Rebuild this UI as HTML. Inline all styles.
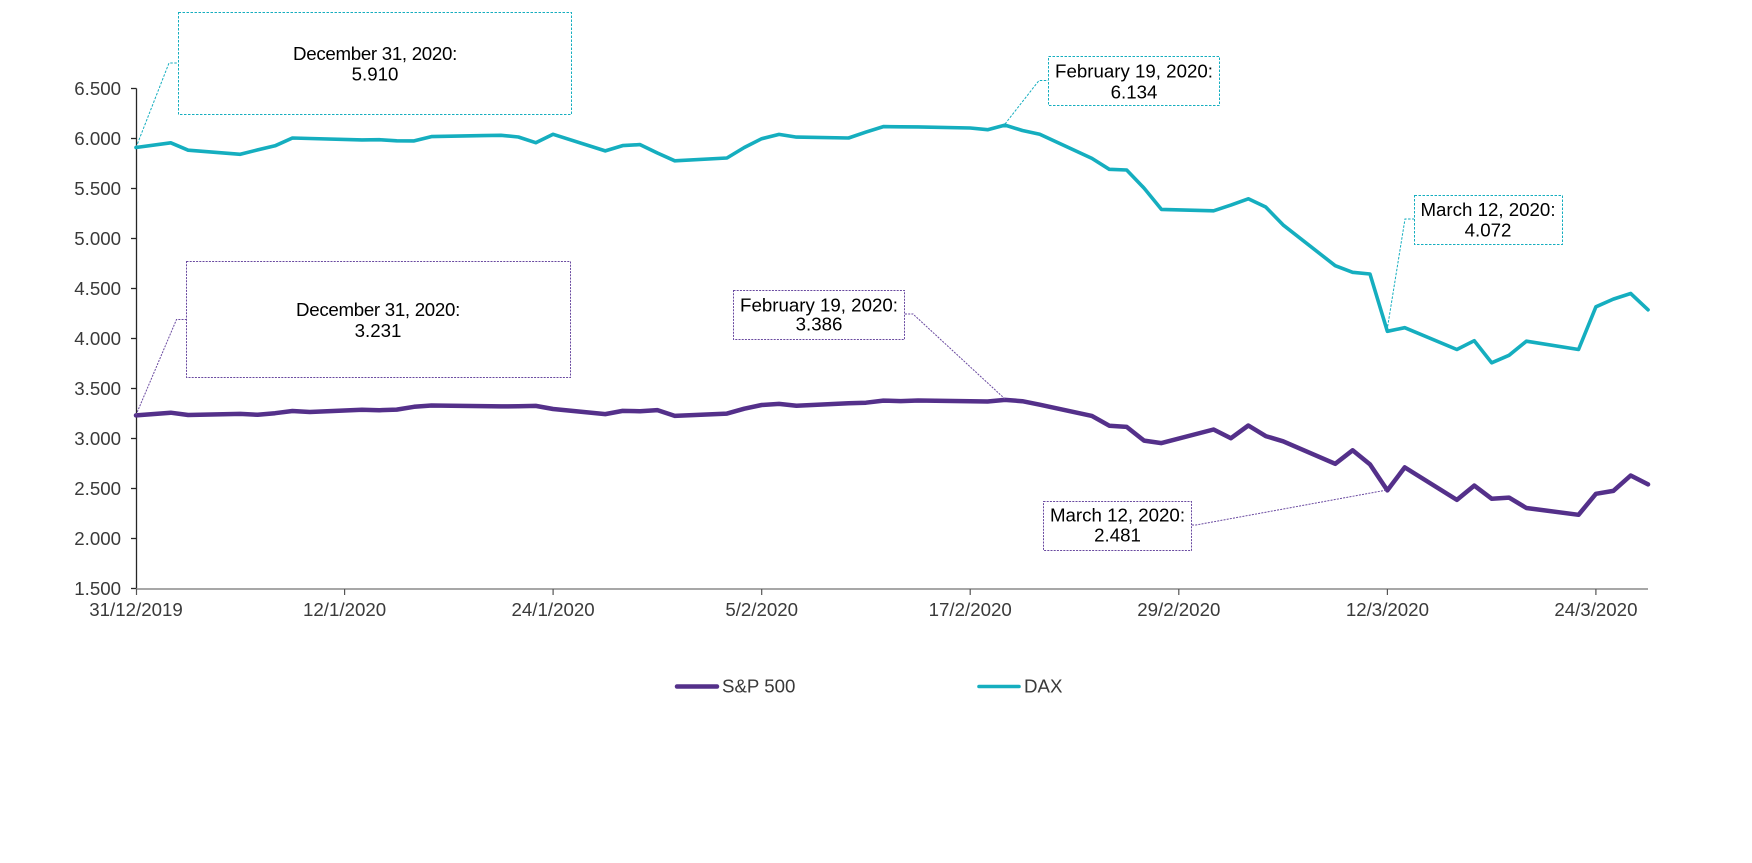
<!DOCTYPE html>
<html>
<head>
<meta charset="utf-8">
<style>
  html,body{margin:0;padding:0;background:#fff;}
  svg{display:block;}
  text{font-family:"Liberation Sans",Arial,sans-serif;}
</style>
</head>
<body>
<svg width="1752" height="863" viewBox="0 0 1752 863" xmlns="http://www.w3.org/2000/svg">
  <rect x="0" y="0" width="1752" height="863" fill="#ffffff"/>

  <!-- Y axis -->
  <line x1="136.5" y1="88.5" x2="136.5" y2="589" stroke="#262626" stroke-width="1.3"/>
  <g stroke="#262626" stroke-width="1.3">
    <line x1="131" y1="88.5" x2="136.5" y2="88.5"/>
    <line x1="131" y1="138.5" x2="136.5" y2="138.5"/>
    <line x1="131" y1="188.5" x2="136.5" y2="188.5"/>
    <line x1="131" y1="238.5" x2="136.5" y2="238.5"/>
    <line x1="131" y1="288.5" x2="136.5" y2="288.5"/>
    <line x1="131" y1="338.5" x2="136.5" y2="338.5"/>
    <line x1="131" y1="388.5" x2="136.5" y2="388.5"/>
    <line x1="131" y1="438.5" x2="136.5" y2="438.5"/>
    <line x1="131" y1="488.5" x2="136.5" y2="488.5"/>
    <line x1="131" y1="538.5" x2="136.5" y2="538.5"/>
    <line x1="131" y1="588.5" x2="136.5" y2="588.5"/>
  </g>
  <g font-size="18.7" fill="#3a3a3a" text-anchor="end">
    <text x="121" y="95.2">6.500</text>
    <text x="121" y="145.2">6.000</text>
    <text x="121" y="195.2">5.500</text>
    <text x="121" y="245.2">5.000</text>
    <text x="121" y="295.2">4.500</text>
    <text x="121" y="345.2">4.000</text>
    <text x="121" y="395.2">3.500</text>
    <text x="121" y="445.2">3.000</text>
    <text x="121" y="495.2">2.500</text>
    <text x="121" y="545.2">2.000</text>
    <text x="121" y="595.2">1.500</text>
  </g>

  <!-- X axis -->
  <line x1="136" y1="589" x2="1648" y2="589" stroke="#8a8a8a" stroke-width="1.5"/>
  <g stroke="#555" stroke-width="1.2">
    <line x1="136.5" y1="589" x2="136.5" y2="595"/>
    <line x1="344.6" y1="589" x2="344.6" y2="595"/>
    <line x1="553.1" y1="589" x2="553.1" y2="595"/>
    <line x1="761.7" y1="589" x2="761.7" y2="595"/>
    <line x1="970.2" y1="589" x2="970.2" y2="595"/>
    <line x1="1178.8" y1="589" x2="1178.8" y2="595"/>
    <line x1="1387.4" y1="589" x2="1387.4" y2="595"/>
    <line x1="1595.9" y1="589" x2="1595.9" y2="595"/>
  </g>
  <g font-size="18.7" fill="#3a3a3a" text-anchor="middle">
    <text x="136" y="616">31/12/2019</text>
    <text x="344.6" y="616">12/1/2020</text>
    <text x="553.1" y="616">24/1/2020</text>
    <text x="761.7" y="616">5/2/2020</text>
    <text x="970.2" y="616">17/2/2020</text>
    <text x="1178.8" y="616">29/2/2020</text>
    <text x="1387.4" y="616">12/3/2020</text>
    <text x="1595.9" y="616">24/3/2020</text>
  </g>

  <!-- Series: transform maps (day, value) to pixels -->
  <g transform="matrix(17.38,0,0,-0.1,136,738.5)">
    <polyline fill="none" stroke="#15AEBF" stroke-width="3.6" stroke-linejoin="round" stroke-linecap="round" vector-effect="non-scaling-stroke"
      points="0,5910 2,5957 3,5883 6,5842 7,5886 8,5927 9,6005 10,6000 13,5986 14,5988 15,5977 16,5976 17,6019 20,6029 21,6032 22,6015 23,5958 24,6042 27,5876 28,5929 29,5939 30,5855 31,5777 34,5805 35,5910 36,5998 37,6041 38,6014 41,6005 42,6064 43,6119 44,6117 45,6116 48,6105 49,6088 50,6134 51,6080 52,6043 55,5801 56,5692 57,5685 58,5504 59,5291 62,5277 63,5334 64,5397 65,5315 66,5136 69,4728 70,4662 71,4645 72,4072 73,4108 76,3890 77,3978 78,3757 79,3832 80,3973 83,3890 84,4317 85,4394 86,4450 87,4287"/>
    <polyline fill="none" stroke="#54308A" stroke-width="4.5" stroke-linejoin="round" stroke-linecap="round" vector-effect="non-scaling-stroke"
      points="0,3231 2,3258 3,3235 6,3246 7,3237 8,3253 9,3275 10,3265 13,3288 14,3283 15,3289 16,3317 17,3330 21,3321 22,3322 23,3326 24,3295 27,3244 28,3276 29,3273 30,3284 31,3226 34,3249 35,3298 36,3335 37,3346 38,3328 41,3352 42,3358 43,3379 44,3374 45,3380 49,3370 50,3386 51,3373 52,3338 55,3226 56,3128 57,3116 58,2979 59,2954 62,3090 63,3003 64,3130 65,3024 66,2972 69,2747 70,2882 71,2741 72,2481 73,2711 76,2386 77,2529 78,2398 79,2409 80,2305 83,2237 84,2447 85,2476 86,2630 87,2541"/>
  </g>

  <!-- DAX annotations (teal dashed) -->
  <g fill="none" stroke="#15AEBF" stroke-width="1" stroke-dasharray="2.5 1.5">
    <polyline points="136,147.5 169,63 178,63"/>
    <rect x="178.5" y="12.5" width="393" height="102"/>
    <polyline points="1005,124 1039,80.5 1048,80.5"/>
    <rect x="1048.5" y="56.5" width="171" height="49"/>
    <polyline points="1387,330.5 1405,219 1414,219"/>
    <rect x="1414.5" y="195.5" width="148" height="49"/>
  </g>

  <!-- S&P annotations (purple dotted) -->
  <g fill="none" stroke="#6A4AA0" stroke-width="1" stroke-dasharray="2 1.2">
    <polyline points="136,415 176.5,319.5 186,319.5"/>
    <rect x="186.5" y="261.5" width="384" height="116"/>
    <polyline points="905,314 913,314 1005,399"/>
    <rect x="733.5" y="290.5" width="171" height="49"/>
    <polyline points="1192,525 1196,525 1387,490"/>
    <rect x="1043.5" y="501.5" width="148" height="49"/>
  </g>

  <!-- Annotation text -->
  <g font-size="18.7" fill="#000" text-anchor="middle">
    <text x="375" y="60" letter-spacing="-0.3">December 31, 2020:</text>
    <text x="375" y="80.7">5.910</text>

    <text x="378" y="316" letter-spacing="-0.3">December 31, 2020:</text>
    <text x="378" y="337">3.231</text>

    <text x="1134" y="77.3">February 19, 2020:</text>
    <text x="1134" y="98.3">6.134</text>

    <text x="819" y="311.7">February 19, 2020:</text>
    <text x="819" y="330.7">3.386</text>

    <text x="1488" y="216">March 12, 2020:</text>
    <text x="1488" y="236.7">4.072</text>

    <text x="1117.5" y="521.7">March 12, 2020:</text>
    <text x="1117.5" y="541.7">2.481</text>
  </g>

  <!-- Legend -->
  <line x1="677" y1="686.5" x2="717" y2="686.5" stroke="#54308A" stroke-width="4.5" stroke-linecap="round"/>
  <text x="722" y="692.5" font-size="18.7" fill="#3a3a3a">S&amp;P 500</text>
  <line x1="979" y1="686.5" x2="1019" y2="686.5" stroke="#15AEBF" stroke-width="3.6" stroke-linecap="round"/>
  <text x="1024" y="692.5" font-size="18.7" fill="#3a3a3a">DAX</text>
</svg>
</body>
</html>
